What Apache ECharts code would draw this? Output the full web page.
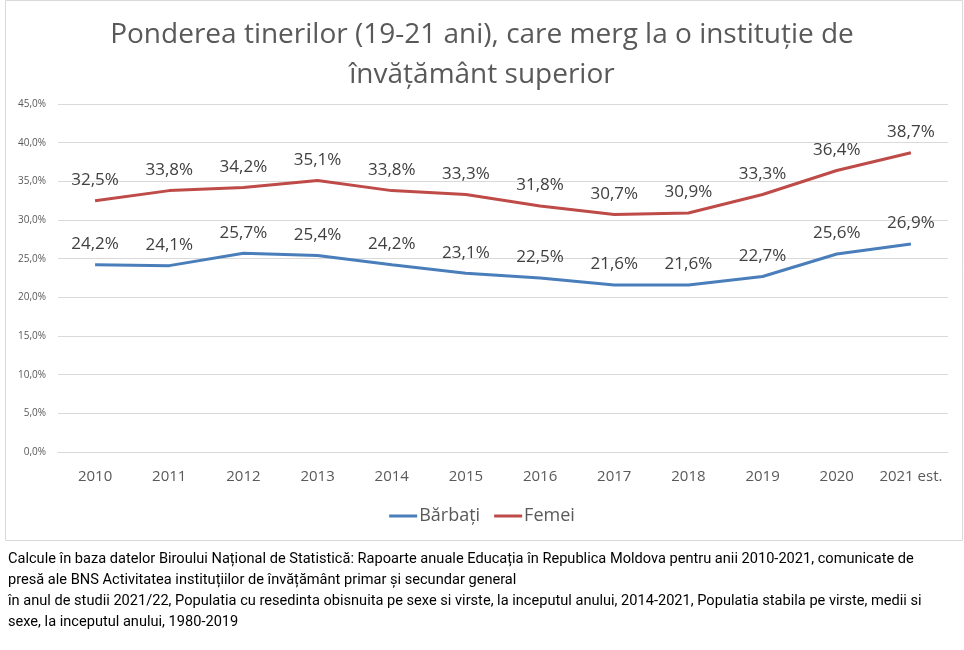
<!DOCTYPE html>
<html><head><meta charset="utf-8">
<script src="https://cdn.jsdelivr.net/npm/echarts@6/dist/echarts.min.js"></script>
<style>html,body{margin:0;padding:0;background:#fff}#c{width:964px;height:650px}</style>
</head><body><div id="c"></div>
<script>
const categories = ['2010','2011','2012','2013','2014','2015','2016','2017','2018','2019','2020','2021 est.'];
const barbati = [24.2,24.1,25.7,25.4,24.2,23.1,22.5,21.6,21.6,22.7,25.6,26.9];
const femei = [32.5,33.8,34.2,35.1,33.8,33.3,31.8,30.7,30.9,33.3,36.4,38.7];
const seriesNames = ['Bărbați','Femei'];
const titleText = 'Ponderea tinerilor (19-21 ani), care merg la o instituție de\nînvățământ superior';
const footnote = [
 'Calcule în baza datelor Biroului Național de Statistică: Rapoarte anuale Educația în Republica Moldova pentru anii 2010-2021, comunicate de',
 'presă ale BNS Activitatea instituțiilor de învățământ primar și secundar general',
 'în anul de studii 2021/22, Populatia cu resedinta obisnuita pe sexe si virste, la inceputul anului, 2014-2021, Populatia stabila pe virste, medii si',
 'sexe, la inceputul anului, 1980-2019'
];
const fmt = v => v.toFixed(1).replace('.', ',') + '%';
const FONT = 'Open Sans, sans-serif';
const chart = echarts.init(document.getElementById('c'));
chart.setOption({
  animation: false,
  textStyle: {fontFamily: FONT},
  title: {text: titleText, left: 'center', top: 10,
    textStyle: {fontFamily: FONT, fontSize: 28, fontWeight: 'normal', color: '#595959', lineHeight: 40}},
  legend: {bottom: 120, left: 'center', itemWidth: 28, itemHeight: 3, itemGap: 14,
    icon: 'rect',
    textStyle: {fontSize: 18, color: '#595959', fontFamily: FONT, padding: [0,0,0,-3]}, data: seriesNames},
  grid: {left: 58, right: 16, top: 104, bottom: 198},
  xAxis: {type: 'category', data: categories, boundaryGap: true,
    axisLine: {lineStyle: {color: '#d9d9d9'}}, axisTick: {show: false},
    axisLabel: {interval: 0, fontSize: 15, color: '#595959', margin: 17}},
  yAxis: {type: 'value', min: 0, max: 45, interval: 5,
    axisLine: {show: false}, axisTick: {show: false},
    splitLine: {lineStyle: {color: '#d9d9d9'}},
    axisLabel: {fontSize: 10, color: '#595959', margin: 12, formatter: v => v.toFixed(1).replace('.', ',') + '%'}},
  graphic: [
    {type: 'rect', shape: {x: 5.5, y: 0.5, width: 957, height: 540}, style: {fill: 'none', stroke: '#d9d9d9', lineWidth: 1}, silent: true, z: -1},
    {type: 'text', left: 8, top: 549, style: {text: footnote.join('\n'), fontSize: 14.6, lineHeight: 21, fill: '#000', fontFamily: 'Roboto, sans-serif'}}
  ],
  series: [
    {name: seriesNames[0], type: 'line', data: barbati, symbol: 'circle', symbolSize: 0.1, showSymbol: true,
      lineStyle: {width: 3, color: '#4a7ebb'}, itemStyle: {color: '#4a7ebb'},
      label: {show: true, position: 'top', distance: 12, fontSize: 17, color: '#404040', formatter: p => fmt(p.value)},
      labelLayout: {hideOverlap: false}},
    {name: seriesNames[1], type: 'line', data: femei, symbol: 'circle', symbolSize: 0.1, showSymbol: true,
      lineStyle: {width: 3, color: '#be4b48'}, itemStyle: {color: '#be4b48'},
      label: {show: true, position: 'top', distance: 12, fontSize: 17, color: '#404040', formatter: p => fmt(p.value)},
      labelLayout: {hideOverlap: false}}
  ]
});
</script></body></html>
